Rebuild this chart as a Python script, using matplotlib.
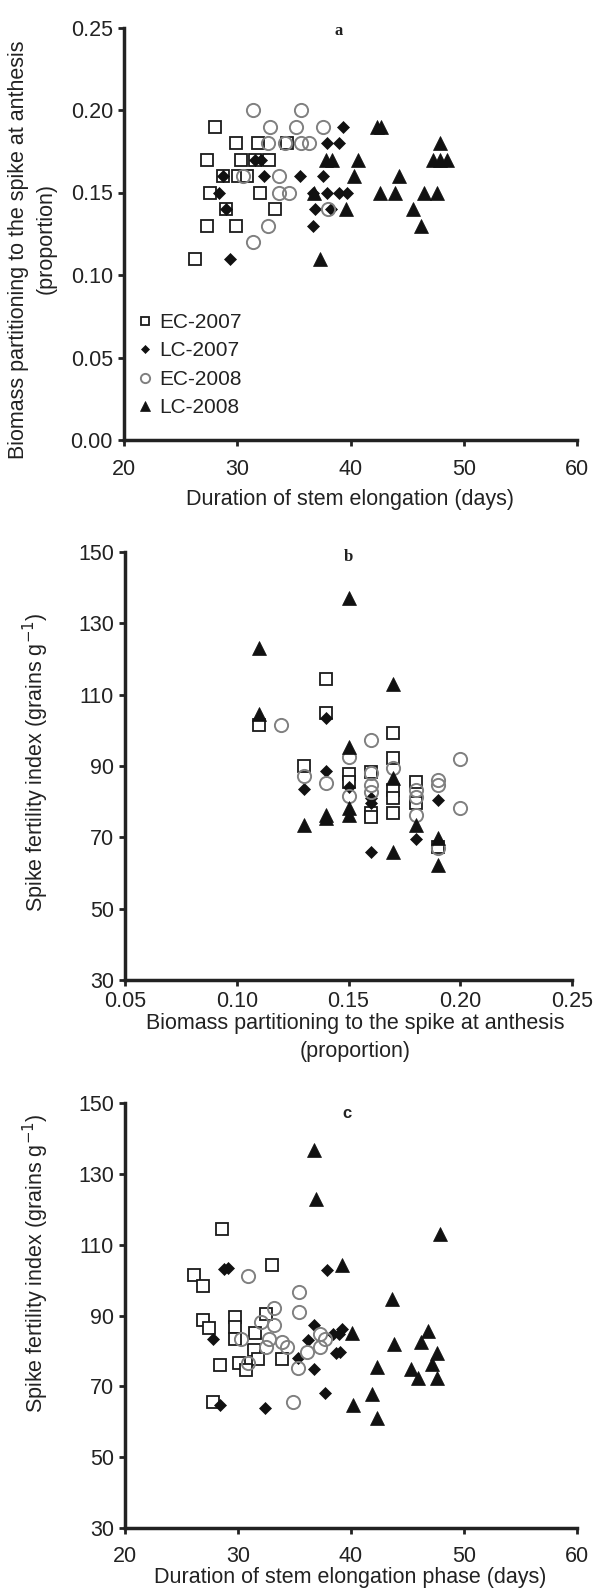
import matplotlib
matplotlib.use('Agg')
import matplotlib.pyplot as plt
from matplotlib.ticker import FormatStrFormatter

plt.rcParams['font.family'] = ['Liberation Sans', 'DejaVu Sans']

W, H = 598, 1591

# ---- panel a: duration (days) vs partitioning (proportion)
a_ec07_x = [28.0, 29.9, 31.8, 34.4, 27.3, 30.3, 31.6, 32.8, 28.7, 30.1, 30.9, 27.6, 32.0, 29.0, 33.3, 27.3, 29.9, 26.3]
a_ec07_y = [0.19, 0.18, 0.18, 0.18, 0.17, 0.17, 0.17, 0.17, 0.16, 0.16, 0.16, 0.15, 0.15, 0.14, 0.14, 0.13, 0.13, 0.11]
a_lc07_x = [39.3, 37.9, 39.0, 31.6, 32.1, 28.7, 32.4, 35.5, 37.6, 28.4, 36.7, 37.9, 39.0, 39.7, 36.9, 38.3, 29.0, 36.7, 29.4]
a_lc07_y = [0.19, 0.18, 0.18, 0.17, 0.17, 0.16, 0.16, 0.16, 0.16, 0.15, 0.15, 0.15, 0.15, 0.15, 0.14, 0.14, 0.14, 0.13, 0.11]
a_ec08_x = [31.4, 35.6, 32.9, 35.2, 37.6, 32.7, 34.2, 35.6, 36.3, 30.5, 33.7, 33.7, 34.6, 38.0, 32.7, 31.4]
a_ec08_y = [0.20, 0.20, 0.19, 0.19, 0.19, 0.18, 0.18, 0.18, 0.18, 0.16, 0.16, 0.15, 0.15, 0.14, 0.13, 0.12]
a_lc08_x = [42.3, 42.7, 47.9, 37.8, 38.4, 40.7, 47.3, 47.9, 48.5, 40.3, 44.3, 36.8, 42.6, 43.9, 46.5, 47.6, 39.6, 45.5, 46.2, 37.3]
a_lc08_y = [0.19, 0.19, 0.18, 0.17, 0.17, 0.17, 0.17, 0.17, 0.17, 0.16, 0.16, 0.15, 0.15, 0.15, 0.15, 0.15, 0.14, 0.14, 0.13, 0.11]

# ---- panel b: partitioning vs spike fertility index
b_ec07_x = [0.11, 0.13, 0.14, 0.14, 0.15, 0.15, 0.16, 0.16, 0.16, 0.17, 0.17, 0.17, 0.17, 0.17, 0.18, 0.18, 0.19]
b_ec07_y = [101.5, 90.0, 114.3, 104.8, 87.8, 85.6, 88.4, 76.8, 75.6, 99.2, 92.2, 83.3, 81.0, 76.8, 85.6, 79.6, 67.4]
b_lc07_x = [0.13, 0.14, 0.14, 0.15, 0.16, 0.16, 0.16, 0.18, 0.19]
b_lc07_y = [83.5, 103.4, 88.6, 84.0, 81.0, 79.6, 66.0, 69.5, 80.5]
b_ec08_x = [0.12, 0.13, 0.14, 0.15, 0.15, 0.16, 0.16, 0.16, 0.16, 0.17, 0.18, 0.18, 0.18, 0.19, 0.19, 0.19, 0.20, 0.20]
b_ec08_y = [101.5, 87.2, 85.2, 92.6, 81.6, 97.3, 88.1, 84.7, 82.8, 89.4, 83.3, 81.4, 76.3, 86.1, 84.7, 67.0, 91.9, 78.2]
b_lc08_x = [0.11, 0.11, 0.13, 0.14, 0.14, 0.15, 0.15, 0.15, 0.15, 0.17, 0.17, 0.17, 0.18, 0.19, 0.19]
b_lc08_y = [123.0, 104.6, 73.5, 76.3, 75.5, 137.0, 95.4, 78.2, 76.3, 112.9, 86.6, 66.0, 73.5, 69.8, 62.3]

# ---- panel c: duration vs spike fertility index
c_ec07_x = [26.1, 26.9, 33.0, 26.9, 27.4, 29.7, 29.7, 29.7, 28.4, 27.8, 31.5, 31.4, 31.8, 30.1, 30.7, 32.5, 33.9, 28.6]
c_ec07_y = [101.4, 98.3, 104.3, 88.8, 86.4, 89.7, 86.7, 83.5, 75.9, 65.5, 85.2, 80.2, 77.8, 76.7, 74.5, 90.5, 77.8, 114.5]
c_lc07_x = [28.8, 29.1, 27.8, 28.4, 32.4, 37.9, 36.7, 36.2, 35.3, 36.7, 37.7, 38.4, 38.7, 39.2, 38.9, 39.0]
c_lc07_y = [103.1, 103.5, 83.3, 64.8, 64.0, 102.9, 87.3, 83.1, 78.1, 75.0, 68.1, 84.8, 79.5, 86.2, 84.8, 79.7]
c_ec08_x = [30.9, 35.4, 35.4, 33.2, 32.0, 33.2, 32.7, 30.3, 32.5, 33.9, 34.3, 30.9, 35.3, 34.9, 37.3, 37.7, 36.1, 37.3]
c_ec08_y = [101.2, 96.7, 91.1, 92.1, 88.1, 87.3, 83.5, 83.5, 81.1, 82.4, 81.1, 76.7, 75.2, 65.5, 84.8, 83.5, 79.7, 81.0]
c_lc08_x = [36.7, 36.9, 47.9, 39.2, 43.6, 40.1, 46.8, 46.2, 43.8, 47.6, 47.2, 42.3, 45.3, 45.9, 47.6, 41.9, 40.2, 42.3]
c_lc08_y = [136.7, 122.9, 112.9, 104.3, 94.8, 85.0, 85.7, 82.6, 81.9, 79.5, 76.2, 75.4, 75.0, 72.4, 72.4, 67.9, 64.8, 61.0]

labels = ['EC-2007', 'LC-2007', 'EC-2008', 'LC-2008']
styles = [
    dict(marker='s', ms=9, mfc='white', mec='#1a1a1a', mew=1.3),
    dict(marker='D', ms=6.5, mfc='#111111', mec='#111111', mew=0.5),
    dict(marker='o', ms=9.5, mfc='none', mec='#808080', mew=1.4),
    dict(marker='^', ms=9.5, mfc='#111111', mec='#111111', mew=0.5),
]

TXT = '#222222'


def px_axes(x0, x1, y0, y1):
    # pixel box (left, right, top, bottom) -> figure fraction
    return [x0 / W, 1 - y1 / H, (x1 - x0) / W, (y1 - y0) / H]


def ftext(x, y, s, **kw):
    fig.text(x / W, 1 - y / H, s, color=TXT, **kw)


def style_axes(ax, xpad=4):
    for side in ['top', 'right']:
        ax.spines[side].set_visible(False)
    for side in ['left', 'bottom']:
        ax.spines[side].set_linewidth(2.5)
        ax.spines[side].set_color('#222222')
    ax.tick_params(direction='out', length=4, width=2, color='#222222',
                   labelsize=15.5, labelcolor=TXT, pad=4)
    ax.tick_params(axis='x', pad=xpad)


def draw(ax, xs, ys):
    for x, y, st, lab in zip(xs, ys, styles, labels):
        ax.plot(x, y, linestyle='none', label=lab, clip_on=False, **st)


fig = plt.figure(figsize=(W / 100, H / 100), dpi=100)

# panel a
ax1 = fig.add_axes(px_axes(124, 577, 27.5, 440))
draw(ax1, [a_ec07_x, a_lc07_x, a_ec08_x, a_lc08_x], [a_ec07_y, a_lc07_y, a_ec08_y, a_lc08_y])
ax1.set_xlim(20, 60)
ax1.set_ylim(0, 0.25)
ax1.set_xticks([20, 30, 40, 50, 60])
ax1.set_yticks([0, 0.05, 0.10, 0.15, 0.20, 0.25])
ax1.yaxis.set_major_formatter(FormatStrFormatter('%.2f'))
style_axes(ax1, xpad=10)
leg = ax1.legend(loc='lower left', bbox_to_anchor=(0.0, 0.02), frameon=False,
                 fontsize=15, markerscale=0.7, handlelength=0.6, handletextpad=0.4,
                 labelspacing=0.45, borderaxespad=0.3)
for t in leg.get_texts():
    t.set_color(TXT)
ftext(339, 31, 'a', ha='center', va='center', fontsize=12, fontweight='bold',
      family='Liberation Serif')
ftext(350, 500, 'Duration of stem elongation (days)', ha='center', va='center', fontsize=15.5)
ftext(19, 250, 'Biomass partitioning to the spike at anthesis', ha='center', va='center',
      rotation=90, fontsize=15.5)
ftext(46, 238, '(proportion)', ha='center', va='center', rotation=90, fontsize=15.5)

# panel b
ax2 = fig.add_axes(px_axes(125, 572, 552, 980))
draw(ax2, [b_ec07_x, b_lc07_x, b_ec08_x, b_lc08_x], [b_ec07_y, b_lc07_y, b_ec08_y, b_lc08_y])
ax2.set_xlim(0.05, 0.25)
ax2.set_ylim(30, 150)
ax2.set_xticks([0.05, 0.10, 0.15, 0.20, 0.25])
ax2.set_yticks([30, 50, 70, 90, 110, 130, 150])
ax2.xaxis.set_major_formatter(FormatStrFormatter('%.2f'))
style_axes(ax2)
ftext(348, 557, 'b', ha='center', va='center', fontsize=12, fontweight='bold',
      family='Liberation Serif')
ftext(355, 1023, 'Biomass partitioning to the spike at anthesis', ha='center', va='center',
      fontsize=15.5)
ftext(355, 1052, '(proportion)', ha='center', va='center', fontsize=15.5)
ftext(36, 762, 'Spike fertility index (grains g$^{-1}$)', ha='center', va='center',
      rotation=90, fontsize=15.5)

# panel c
ax3 = fig.add_axes(px_axes(125, 577, 1103, 1528))
draw(ax3, [c_ec07_x, c_lc07_x, c_ec08_x, c_lc08_x], [c_ec07_y, c_lc07_y, c_ec08_y, c_lc08_y])
ax3.set_xlim(20, 60)
ax3.set_ylim(30, 150)
ax3.set_xticks([20, 30, 40, 50, 60])
ax3.set_yticks([30, 50, 70, 90, 110, 130, 150])
style_axes(ax3, xpad=9)
ftext(347, 1113, 'c', ha='center', va='center', fontsize=12, fontweight='bold')
ftext(350, 1578, 'Duration of stem elongation phase (days)', ha='center', va='center',
      fontsize=15.5)
ftext(36, 1263, 'Spike fertility index (grains g$^{-1}$)', ha='center', va='center',
      rotation=90, fontsize=15.5)

fig.savefig('out.png', dpi=100)
